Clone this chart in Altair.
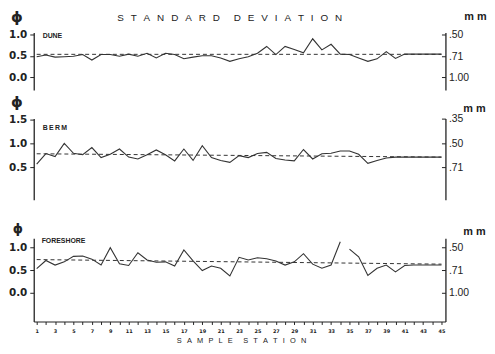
import math
import altair as alt
import pandas as pd

# ---------------- data ----------------
stations = list(range(1, 46))

dune_sd = [0.48, 0.52, 0.47, 0.48, 0.49, 0.53, 0.40, 0.53, 0.53, 0.49,
           0.54, 0.49, 0.56, 0.45, 0.56, 0.53, 0.43, 0.47, 0.50, 0.50,
           0.45, 0.37, 0.43, 0.48, 0.56, 0.72, 0.53, 0.72, 0.65, 0.57,
           0.90, 0.64, 0.77, 0.54, 0.53, 0.45, 0.37, 0.43, 0.60, 0.44,
           0.54, 0.54, 0.54, 0.54, 0.54]

berm_sd = [0.56, 0.785, 0.72, 1.00, 0.79, 0.76, 0.91, 0.70, 0.77, 0.88,
           0.71, 0.67, 0.76, 0.86, 0.76, 0.63, 0.88, 0.64, 0.95, 0.70,
           0.64, 0.60, 0.74, 0.70, 0.785, 0.81, 0.68, 0.65, 0.63, 0.87,
           0.67, 0.78, 0.79, 0.84, 0.84, 0.77, 0.58, 0.64, 0.69, 0.71,
           0.71, 0.71, 0.71, 0.71, 0.71]

foreshore_sd = [0.53, 0.71, 0.61, 0.68, 0.80, 0.81, 0.74, 0.61, 0.99, 0.64,
                0.60, 0.88, 0.72, 0.67, 0.68, 0.59, 0.94, 0.70, 0.49, 0.59,
                0.54, 0.37, 0.78, 0.72, 0.77, 0.75, 0.70, 0.61, 0.68, 0.86,
                0.63, 0.54, 0.61, 1.12, 0.96, 0.79, 0.38, 0.54, 0.61, 0.46,
                0.60, 0.61, 0.61, 0.61, 0.61]
foreshore_segment = ["a"] * 34 + ["b"] * 11

mean_stations = [1, 45]
dune_mean = [0.535, 0.535]
berm_mean = [0.78, 0.71]
foreshore_mean = [0.73, 0.63]

dune_phi_ticks = [0.0, 0.5, 1.0]
berm_phi_ticks = [0.5, 1.0, 1.5]
foreshore_phi_ticks = [0.0, 0.5, 1.0]
dune_mm = [0.50, 0.71, 1.00]
berm_mm = [0.35, 0.50, 0.71]
foreshore_mm = [0.50, 0.71, 1.00]

# ---------------- styling ----------------
W = 416
FONT = "Liberation Sans"
INK = "#222222"
XSCALE = alt.Scale(domain=[0.68, 45.43], nice=False, zero=False)


def mm_label(m):
    s = f"{m:.2f}"
    return s[1:] if s.startswith("0") else s


def mm_axis_values(mm_list):
    return [-math.log2(m) for m in mm_list]


def mm_label_expr(mm_list):
    expr = "''"
    for m in reversed(mm_list):
        phi = -math.log2(m)
        expr = f"abs(datum.value - {phi:.5f}) < 0.001 ? '{mm_label(m)}' : ({expr})"
    return expr


def txt(text, x, y, size, weight="normal", font=FONT, align="left"):
    return alt.Chart(alt.Data(values=[{}])).mark_text(
        text=text, fontSize=size, fontWeight=weight, font=font,
        align=align, baseline="middle", color=INK
    ).encode(x=alt.value(x), y=alt.value(y))


def panel(values, segs, mean_vals, domain, height, left_ticks, mm_list,
          texts, show_x):
    df = pd.DataFrame({"station": stations, "sd": values, "seg": segs})
    mdf = pd.DataFrame({"x1": [mean_stations[0]], "x2": [mean_stations[1]],
                        "y1": [mean_vals[0]], "y2": [mean_vals[1]]})
    yscale = alt.Scale(domain=domain, nice=False, zero=False)
    if show_x:
        xaxis = alt.Axis(values=stations, title=None, grid=False,
                         labelExpr="datum.value % 2 == 1 ? datum.value : ''",
                         labelFont="DejaVu Sans", labelFontSize=5,
                         labelFontWeight="bold", tickSize=3, labelPadding=4,
                         domainWidth=1.2, labelColor=INK)
    else:
        xaxis = None

    left_axis = alt.Axis(orient="left", values=left_ticks, format=".1f",
                         title=None, grid=False, tickSize=4, labelPadding=3,
                         labelFont="DejaVu Sans", labelFontWeight="bold",
                         labelFontSize=10.5, domainWidth=1.3)
    right_axis = alt.Axis(orient="right", values=mm_axis_values(mm_list),
                          labelExpr=mm_label_expr(mm_list), title=None,
                          grid=False, ticks=False, labelPadding=3,
                          labelFont=FONT, labelFontSize=10.5, domainWidth=1.3)
    right_ticks = alt.Axis(orient="right", values=mm_axis_values(mm_list),
                           title=None, grid=False, labels=False, domain=False,
                           ticks=True, tickSize=4, offset=-4)

    line = alt.Chart(df).mark_line(color="#333333", strokeWidth=1.1).encode(
        x=alt.X("station:Q", scale=XSCALE, axis=xaxis),
        y=alt.Y("sd:Q", scale=yscale, axis=left_axis),
        detail="seg:N",
    )
    mean_rule = alt.Chart(mdf).mark_rule(
        color="#333333", strokeWidth=1, strokeDash=[4, 3]
    ).encode(
        x=alt.X("x1:Q", scale=XSCALE, axis=xaxis),
        x2="x2:Q",
        y=alt.Y("y1:Q", scale=yscale, axis=right_axis),
        y2="y2:Q",
    )
    ticks_layer = alt.Chart(df).mark_line(opacity=0).encode(
        x=alt.X("station:Q", scale=XSCALE, axis=xaxis),
        y=alt.Y("sd:Q", scale=yscale, axis=right_ticks),
    )
    layers = [line, mean_rule, ticks_layer] + texts
    return alt.layer(*layers).resolve_scale(y="shared").resolve_axis(
        y="independent").properties(width=W, height=height)


def spacer(h):
    return alt.Chart(alt.Data(values=[{}])).mark_text(text="").encode(
        x=alt.value(0), y=alt.value(0)).properties(width=W, height=h)


PHI = "\u03d5"
SP = "\u2002\u2009"
title_text = SP.join("STANDARD") + SP + SP + SP.join("DEVIATION")
SP2 = "\u2002\u2009"
station_text = SP2.join("SAMPLE") + SP2 + SP2 + SP2.join("STATION")

p1 = panel(dune_sd, ["a"] * 45, dune_mean, [-0.30, 1.047], 58,
           dune_phi_ticks, dune_mm,
           [txt(PHI, -17, -15.5, 15, "bold", "DejaVu Sans", "center"),
            txt(title_text, 198, -14.5, 10, align="center"),
            txt("DUNE", 9, 3.5, 7, "bold"),
            txt("m\u00a0m", W + 19, -15.5, 11, "bold")],
           False)
p2 = panel(berm_sd, ["a"] * 45, berm_mean, [-0.188, 1.52], 82,
           berm_phi_ticks, berm_mm,
           [txt(PHI, -17, -16.5, 15, "bold", "DejaVu Sans", "center"),
            txt("B\u2009E\u2009R\u2009M", 9, 10, 7, "bold"),
            txt("m\u00a0m", W + 18, -10, 11, "bold")],
           False)
p3 = panel(foreshore_sd, foreshore_segment, foreshore_mean, [-0.63, 1.196], 84,
           foreshore_phi_ticks, foreshore_mm,
           [txt(PHI, -16, -9.5, 13, "bold", "DejaVu Sans", "center"),
            txt("FORESHORE", 8, 2.5, 7, "bold"),
            txt("m\u00a0m", W + 18, -6, 11, "bold"),
            txt(station_text, 210, 104, 7.5, align="center")],
           True)

chart = alt.vconcat(p1, spacer(29), p2, spacer(39), p3,
                    spacing=0, bounds="flush").properties(
    padding=0, background="white"
).configure_view(stroke=None).configure_axis(
    domainColor=INK, tickColor=INK, labelColor=INK
)

chart.save("out.html", embed_options={"renderer": "svg", "actions": False})
